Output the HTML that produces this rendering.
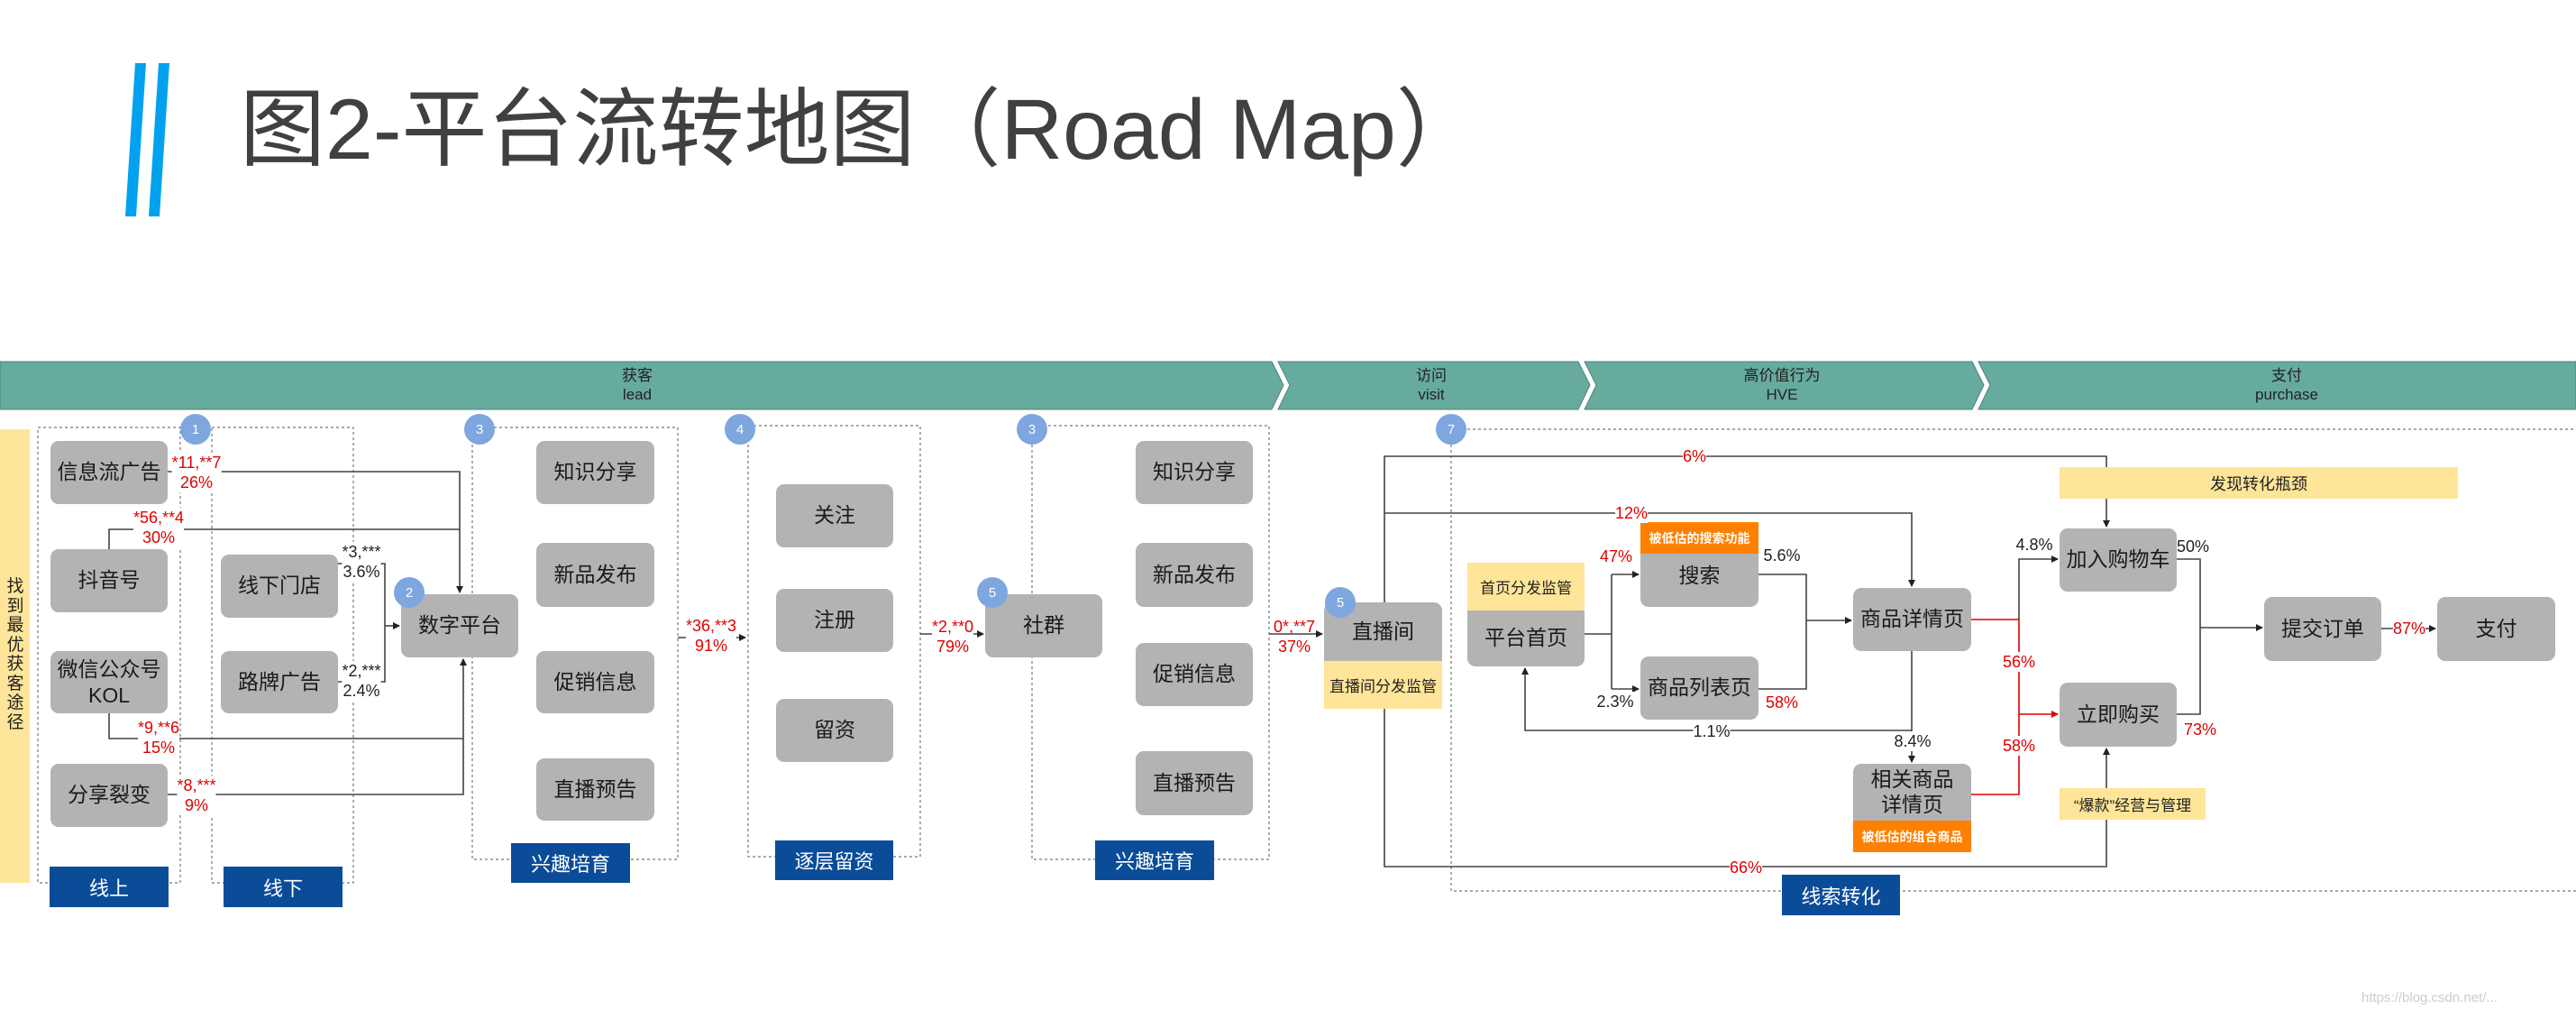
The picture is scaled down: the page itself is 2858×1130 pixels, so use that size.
<!DOCTYPE html>
<html><head><meta charset="utf-8">
<style>
*{margin:0;padding:0;box-sizing:border-box}
body{width:2858px;height:1130px;background:#fff;position:relative;overflow:hidden;font-family:"Liberation Sans","Noto Sans CJK SC",sans-serif;color:#222}
.a{position:absolute}
.b{position:absolute;background:#b3b3b3;border-radius:9px;display:flex;align-items:center;justify-content:center;text-align:center;font-size:23px;line-height:1.3;color:#1a1a1a}
.blue{position:absolute;background:#0b4c99;color:#fff;font-size:22px;display:flex;align-items:center;justify-content:center}
.c{position:absolute;width:34px;height:34px;border-radius:50%;background:#7ea6df;color:#fff;font-size:15px;display:flex;align-items:center;justify-content:center}
.l{position:absolute;font-size:18px;line-height:22px;text-align:center;background:#fff;white-space:nowrap;transform:translate(-50%,-50%)}
.r{color:#e00000}
.y{position:absolute;background:#ffe599;display:flex;align-items:center;justify-content:center;font-size:18px;color:#222}
.o{position:absolute;background:#ff8000;color:#fff;font-weight:bold;display:flex;align-items:center;justify-content:center;font-size:15px}
.bt{position:absolute;color:#222;font-size:17px;line-height:21px;text-align:center;transform:translateX(-50%)}
</style></head><body>
<!-- title -->
<svg class="a" style="left:0;top:0" width="300" height="260"><polygon points="150,70 162,70 151,240 139,240" fill="#00a2ed"/><polygon points="176,70 188,70 177,240 165,240" fill="#00a2ed"/></svg>
<div class="a" style="left:266px;top:92px;font-size:95px;line-height:105px;color:#404040;white-space:nowrap">图2-平台流转地图（Road Map）</div>

<!-- banner -->
<svg class="a" style="left:0;top:0" width="2858" height="1130">
<defs>
<marker id="ar" markerWidth="8" markerHeight="8" refX="7" refY="4" orient="auto" markerUnits="userSpaceOnUse"><path d="M0,0 L8,4 L0,8 z" fill="#222"/></marker>
<marker id="rr" markerWidth="8" markerHeight="8" refX="7" refY="4" orient="auto" markerUnits="userSpaceOnUse"><path d="M0,0 L8,4 L0,8 z" fill="#e00000"/></marker>
</defs>
<g fill="#67ab9e" stroke="#4f8378" stroke-width="1">
<polygon points="0,401 1411,401 1424,427 1411,454 0,454"/>
<polygon points="1418,401 1751,401 1764,427 1751,454 1418,454 1431,427"/>
<polygon points="1758,401 2188,401 2201,427 2188,454 1758,454 1771,427"/>
<polygon points="2195,401 2858,401 2858,454 2195,454 2208,427"/>
</g>
<!-- dashed boxes -->
<g fill="none" stroke="#777" stroke-width="1.2" stroke-dasharray="3,3">
<rect x="42" y="474" width="158" height="505"/>
<rect x="235" y="474" width="157" height="505"/>
<rect x="524" y="474" width="228" height="479"/>
<rect x="830" y="472" width="191" height="478"/>
<rect x="1145" y="472" width="263" height="481"/>
<rect x="1610" y="476" width="1250" height="512"/>
</g>
<!-- lines -->
<g fill="none" stroke="#444" stroke-width="1.6">
<polyline points="186,523 510,523 510,657" marker-end="url(#ar)"/>
<polyline points="121,609 121,587 510,587"/>
<polyline points="375,625 427,625 427,756 375,756"/>
<line x1="427" y1="694" x2="443" y2="694" marker-end="url(#ar)"/>
<polyline points="121,791 121,819 514,819 514,731" marker-end="url(#ar)"/>
<polyline points="186,881 514,881 514,819"/>
<line x1="752" y1="707" x2="827" y2="707" marker-end="url(#ar)"/>
<line x1="1021" y1="703" x2="1091" y2="703" marker-end="url(#ar)"/>
<line x1="1408" y1="703" x2="1467" y2="703" marker-end="url(#ar)"/>
<polyline points="1536,668 1536,506 2337,506 2337,518"/>
<line x1="2337" y1="553" x2="2337" y2="584" marker-end="url(#ar)"/>
<polyline points="1536,569 2121,569 2121,650" marker-end="url(#ar)"/>
<polyline points="1536,786 1536,961 2337,961 2337,909"/>
<line x1="2337" y1="874" x2="2337" y2="830" marker-end="url(#ar)"/>
<line x1="1758" y1="703" x2="1788" y2="703"/>
<line x1="1788" y1="637" x2="1788" y2="764"/>
<line x1="1788" y1="637" x2="1818" y2="637" marker-end="url(#ar)"/>
<line x1="1788" y1="764" x2="1818" y2="764" marker-end="url(#ar)"/>
<polyline points="1951,637 2004,637 2004,764 1951,764"/>
<line x1="2004" y1="688" x2="2054" y2="688" marker-end="url(#ar)"/>
<polyline points="2121,722 2121,810 1692,810 1692,741" marker-end="url(#ar)"/>
<line x1="2121" y1="810" x2="2121" y2="845" marker-end="url(#ar)"/>
<polyline points="2240,687 2240,620 2283,620" marker-end="url(#ar)"/>
<polyline points="2415,620 2441,620 2441,792 2415,792"/>
<line x1="2441" y1="696" x2="2510" y2="696" marker-end="url(#ar)"/>
<line x1="2642" y1="697" x2="2702" y2="697" marker-end="url(#ar)"/>
</g>
<g fill="none" stroke="#e00000" stroke-width="1.6">
<line x1="2187" y1="687" x2="2240" y2="687"/>
<polyline points="2187,881 2240,881 2240,687"/>
<line x1="2240" y1="792" x2="2283" y2="792" marker-end="url(#rr)"/>
</g>
</svg>

<div class="bt" style="left:707px;top:406px">获客<br>lead</div>
<div class="bt" style="left:1588px;top:406px">访问<br>visit</div>
<div class="bt" style="left:1977px;top:406px">高价值行为<br>HVE</div>
<div class="bt" style="left:2537px;top:406px">支付<br>purchase</div>

<!-- left yellow -->
<div class="a" style="left:0;top:476px;width:33px;height:503px;background:#ffe599"></div>
<div class="a" style="left:6px;top:640px;width:22px;font-size:19px;line-height:21.5px;text-align:center">找到最优获客途径</div>

<!-- boxes left -->
<div class="b" style="left:56px;top:489px;width:130px;height:70px">信息流广告</div>
<div class="b" style="left:56px;top:609px;width:130px;height:70px">抖音号</div>
<div class="b" style="left:56px;top:722px;width:130px;height:69px;line-height:1.25">微信公众号<br>KOL</div>
<div class="b" style="left:56px;top:847px;width:130px;height:70px">分享裂变</div>
<div class="b" style="left:245px;top:615px;width:130px;height:70px">线下门店</div>
<div class="b" style="left:245px;top:722px;width:130px;height:69px">路牌广告</div>
<div class="b" style="left:445px;top:659px;width:130px;height:70px">数字平台</div>
<div class="b" style="left:595px;top:489px;width:131px;height:70px">知识分享</div>
<div class="b" style="left:595px;top:602px;width:131px;height:71px">新品发布</div>
<div class="b" style="left:595px;top:722px;width:131px;height:69px">促销信息</div>
<div class="b" style="left:595px;top:841px;width:131px;height:69px">直播预告</div>
<div class="b" style="left:861px;top:537px;width:130px;height:70px">关注</div>
<div class="b" style="left:861px;top:653px;width:130px;height:70px">注册</div>
<div class="b" style="left:861px;top:775px;width:130px;height:70px">留资</div>
<div class="b" style="left:1093px;top:659px;width:130px;height:70px">社群</div>
<div class="b" style="left:1260px;top:489px;width:130px;height:70px">知识分享</div>
<div class="b" style="left:1260px;top:602px;width:130px;height:71px">新品发布</div>
<div class="b" style="left:1260px;top:713px;width:130px;height:70px">促销信息</div>
<div class="b" style="left:1260px;top:833px;width:130px;height:71px">直播预告</div>

<div class="blue" style="left:55px;top:961px;width:132px;height:45px">线上</div>
<div class="blue" style="left:248px;top:961px;width:132px;height:45px">线下</div>
<div class="blue" style="left:567px;top:935px;width:132px;height:44px">兴趣培育</div>
<div class="blue" style="left:860px;top:932px;width:131px;height:44px">逐层留资</div>
<div class="blue" style="left:1215px;top:932px;width:132px;height:44px">兴趣培育</div>
<div class="blue" style="left:1977px;top:970px;width:131px;height:45px">线索转化</div>

<!-- right boxes -->
<div class="b" style="left:1469px;top:668px;width:131px;height:70px;border-radius:9px 9px 0 0;align-items:flex-start;padding-top:18px">直播间</div>
<div class="y" style="left:1469px;top:733px;width:131px;height:53px;font-size:17px">直播间分发监管</div>
<div class="y" style="left:1628px;top:624px;width:130px;height:53px;font-size:17px">首页分发监管</div>
<div class="b" style="left:1628px;top:677px;width:130px;height:62px;border-radius:0 0 9px 9px">平台首页</div>
<div class="o" style="left:1820px;top:579px;width:131px;height:35px;font-size:14px">被低估的搜索功能</div>
<div class="b" style="left:1820px;top:614px;width:131px;height:59px;border-radius:0 0 9px 9px;align-items:flex-start;padding-top:10px">搜索</div>
<div class="b" style="left:1820px;top:728px;width:131px;height:70px">商品列表页</div>
<div class="b" style="left:2056px;top:652px;width:131px;height:70px">商品详情页</div>
<div class="b" style="left:2056px;top:847px;width:131px;height:63px;border-radius:9px 9px 0 0;line-height:1.2">相关商品<br>详情页</div>
<div class="o" style="left:2056px;top:910px;width:131px;height:35px;font-size:14px">被低估的组合商品</div>
<div class="y" style="left:2285px;top:518px;width:442px;height:35px;font-size:18px">发现转化瓶颈</div>
<div class="b" style="left:2285px;top:586px;width:130px;height:70px">加入购物车</div>
<div class="b" style="left:2285px;top:757px;width:130px;height:71px">立即购买</div>
<div class="y" style="left:2285px;top:874px;width:162px;height:35px;font-size:17px">“爆款”经营与管理</div>
<div class="b" style="left:2512px;top:662px;width:130px;height:71px">提交订单</div>
<div class="b" style="left:2704px;top:662px;width:131px;height:71px">支付</div>

<!-- circles -->
<div class="c" style="left:200px;top:459px">1</div>
<div class="c" style="left:437px;top:640px">2</div>
<div class="c" style="left:515px;top:459px">3</div>
<div class="c" style="left:804px;top:459px">4</div>
<div class="c" style="left:1084px;top:640px">5</div>
<div class="c" style="left:1128px;top:459px">3</div>
<div class="c" style="left:1470px;top:651px">5</div>
<div class="c" style="left:1593px;top:459px">7</div>

<!-- labels -->
<div class="l r" style="left:218px;top:524px">*11,**7<br>26%</div>
<div class="l r" style="left:176px;top:585px">*56,**4<br>30%</div>
<div class="l" style="left:401px;top:623px">*3,***<br>3.6%</div>
<div class="l" style="left:401px;top:755px">*2,***<br>2.4%</div>
<div class="l r" style="left:176px;top:818px">*9,**6<br>15%</div>
<div class="l r" style="left:218px;top:882px">*8,***<br>9%</div>
<div class="l r" style="left:789px;top:705px">*36,**3<br>91%</div>
<div class="l r" style="left:1057px;top:706px">*2,**0<br>79%</div>
<div class="l r" style="left:1436px;top:706px;background:transparent">0*,**7<br>37%</div>
<div class="l r" style="left:1880px;top:506px">6%</div>
<div class="l r" style="left:1810px;top:569px">12%</div>
<div class="l r" style="left:1793px;top:617px">47%</div>
<div class="l" style="left:1792px;top:778px">2.3%</div>
<div class="l" style="left:1977px;top:616px">5.6%</div>
<div class="l r" style="left:1977px;top:779px">58%</div>
<div class="l" style="left:1899px;top:811px">1.1%</div>
<div class="l" style="left:2122px;top:822px">8.4%</div>
<div class="l r" style="left:1937px;top:962px">66%</div>
<div class="l r" style="left:2240px;top:734px">56%</div>
<div class="l r" style="left:2240px;top:827px">58%</div>
<div class="l" style="left:2257px;top:604px;background:transparent">4.8%</div>
<div class="l" style="left:2433px;top:606px;background:transparent">50%</div>
<div class="l r" style="left:2441px;top:809px;background:transparent">73%</div>
<div class="l r" style="left:2673px;top:697px">87%</div>
<div class="a" style="left:2620px;top:1098px;font-size:15px;color:#ccc">https://blog.csdn.net/...</div>
</body></html>
